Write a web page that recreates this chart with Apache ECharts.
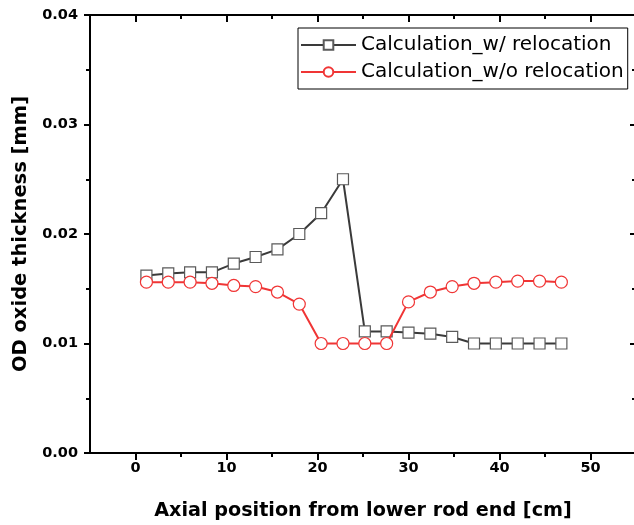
<!DOCTYPE html>
<html>
<head>
<meta charset="utf-8">
<script src="https://cdn.jsdelivr.net/npm/echarts@6/dist/echarts.min.js"></script>
<style>
html,body{margin:0;padding:0;background:#fff;overflow:hidden;}
#c{width:640px;height:525px;}
</style>
</head>
<body>
<div id="c"></div>
<script>
const positions = [1.2, 3.6, 6.0, 8.4, 10.8, 13.2, 15.6, 18.0, 20.4, 22.8, 25.2, 27.6, 30.0, 32.4, 34.8, 37.2, 39.6, 42.0, 44.4, 46.8];
const withRelocation = [0.0162, 0.0164, 0.0165, 0.0165, 0.0173, 0.0179, 0.0186, 0.0200, 0.0219, 0.0250, 0.0111, 0.0111, 0.0110, 0.0109, 0.0106, 0.0100, 0.0100, 0.0100, 0.0100, 0.0100];
const withoutRelocation = [0.0156, 0.0156, 0.0156, 0.0155, 0.0153, 0.0152, 0.0147, 0.0136, 0.0100, 0.0100, 0.0100, 0.0100, 0.0138, 0.0147, 0.0152, 0.0155, 0.0156, 0.0157, 0.0157, 0.0156];
const seriesNames = ['Calculation_w/ relocation', 'Calculation_w/o relocation'];
const xMajorTicks = [0, 10, 20, 30, 40, 50];
const xMinorTicks = [5, 15, 25, 35, 45];
const xTitle = 'Axial position from lower rod end [cm]';
const yTitle = 'OD oxide thickness [mm]';

const FONT = '"DejaVu Sans", "Liberation Sans", Arial, sans-serif';
const pair = (xs, ys) => xs.map((x, i) => [x, ys[i]]);

const chart = echarts.init(document.getElementById('c'), null, {renderer: 'canvas'});
const lineStyle = {color: '#000', width: 2};
const baseX = {type: 'value', min: -5, max: 55, gridIndex: 0, splitLine: {show: false}};
chart.setOption({
  animation: false,
  backgroundColor: '#fff',
  grid: {left: 90, right: 4, top: 15, bottom: 72, containLabel: false, outerBoundsMode: 'none'},
  legend: {
    left: 298, top: 28,
    orient: 'vertical',
    borderColor: '#000', borderWidth: 1,
    padding: [7, 4, 7, 2],
    itemWidth: 55, itemHeight: 12, itemGap: 7,
    textStyle: {fontFamily: FONT, fontSize: 20, color: '#000'},
    data: seriesNames
  },
  xAxis: [
    Object.assign({}, baseX, {
      position: 'bottom',
      name: xTitle, nameLocation: 'middle', nameGap: 49,
      nameTextStyle: {fontFamily: FONT, fontSize: 19.2, fontWeight: 'bold', color: '#000'},
      axisLine: {show: true, onZero: false, lineStyle: lineStyle},
      axisTick: {show: true, inside: false, length: 7, customValues: xMajorTicks, lineStyle: lineStyle},
      axisLabel: {show: true, customValues: xMajorTicks, margin: 8, fontFamily: FONT, fontSize: 14.5, fontWeight: 'bold', color: '#000'}
    }),
    Object.assign({}, baseX, {
      position: 'bottom',
      axisLine: {show: false, onZero: false},
      axisTick: {show: true, inside: false, length: 4, customValues: xMinorTicks, lineStyle: lineStyle},
      axisLabel: {show: false}
    }),
    Object.assign({}, baseX, {
      position: 'top',
      axisLine: {show: true, onZero: false, lineStyle: lineStyle},
      axisTick: {show: true, inside: true, length: 7, customValues: xMajorTicks, lineStyle: lineStyle},
      axisLabel: {show: false}
    }),
    Object.assign({}, baseX, {
      position: 'top',
      axisLine: {show: false, onZero: false},
      axisTick: {show: true, inside: true, length: 4, customValues: xMinorTicks, lineStyle: lineStyle},
      axisLabel: {show: false}
    })
  ],
  yAxis: [
    {
      type: 'value', min: 0, max: 0.04, interval: 0.01, position: 'left',
      name: yTitle, nameLocation: 'middle', nameGap: 55,
      nameTextStyle: {fontFamily: FONT, fontSize: 19.5, fontWeight: 'bold', color: '#000'},
      splitLine: {show: false},
      axisLine: {show: true, onZero: false, lineStyle: lineStyle},
      axisTick: {show: true, inside: false, length: 6, lineStyle: lineStyle},
      minorTick: {show: true, splitNumber: 2, length: 4, lineStyle: {color: '#000', width: 2}},
      axisLabel: {margin: 12, fontFamily: FONT, fontSize: 14.5, fontWeight: 'bold', color: '#000', formatter: v => v.toFixed(2)}
    },
    {
      type: 'value', min: 0, max: 0.04, interval: 0.01, position: 'right',
      splitLine: {show: false},
      axisLine: {show: true, onZero: false, lineStyle: lineStyle},
      axisTick: {show: true, inside: true, length: 6, lineStyle: lineStyle},
      minorTick: {show: true, splitNumber: 2, length: 4, lineStyle: {color: '#000', width: 2}},
      axisLabel: {show: false}
    }
  ],
  series: [
    {
      name: seriesNames[0], type: 'line', xAxisIndex: 0, yAxisIndex: 0,
      data: pair(positions, withRelocation),
      symbol: 'rect', symbolSize: 11, showAllSymbol: true,
      lineStyle: {color: '#3a3a3a', width: 2},
      itemStyle: {color: '#ffffff', borderColor: '#5a5a5a', borderWidth: 1.2},
      color: '#3a3a3a', z: 2
    },
    {
      name: seriesNames[1], type: 'line', xAxisIndex: 0, yAxisIndex: 0,
      data: pair(positions, withoutRelocation),
      symbol: 'circle', symbolSize: 12, showAllSymbol: true,
      lineStyle: {color: '#f03535', width: 2},
      itemStyle: {color: '#ffffff', borderColor: '#f03535', borderWidth: 1.2},
      color: '#f03535', z: 3
    }
  ]
});
</script>
</body>
</html>
